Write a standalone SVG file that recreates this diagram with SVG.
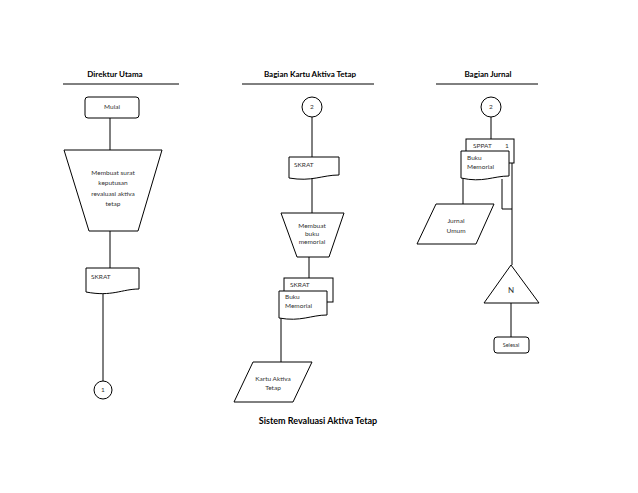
<svg xmlns="http://www.w3.org/2000/svg" width="638" height="493" viewBox="0 0 638 493">
<style>
.s{fill:#fff;stroke:#000;stroke-width:1}
.c{fill:none;stroke:#000;stroke-width:1}
.h{font-family:Lato,"Liberation Sans",sans-serif;font-size:8px;font-weight:bold;fill:#000}
.t{font-family:Lato,"Liberation Sans",sans-serif;font-size:6.5px;fill:#333}
.m{text-anchor:middle}
</style>
<rect width="638" height="493" fill="#fff"/>
<g id="headers">
<text class="h m" x="115" y="77">Direktur Utama</text>
<text class="h m" x="310" y="77">Bagian Kartu Aktiva Tetap</text>
<text class="h m" x="488" y="77">Bagian Jurnal</text>
<line class="c" x1="63" y1="84" x2="179" y2="84"/>
<line class="c" x1="242" y1="84" x2="374" y2="84"/>
<line class="c" x1="436" y1="84" x2="538" y2="84"/>
</g>
<g id="connectors">
<line class="c" x1="110" y1="118" x2="110" y2="150"/>
<line class="c" x1="110" y1="231" x2="110" y2="268"/>
<line class="c" x1="103" y1="294" x2="103" y2="381"/>
<line class="c" x1="312" y1="117" x2="312" y2="157"/>
<line class="c" x1="312" y1="177" x2="312" y2="213"/>
<line class="c" x1="309" y1="257" x2="309" y2="278"/>
<line class="c" x1="281" y1="318" x2="281" y2="362"/>
<line class="c" x1="491" y1="117" x2="491" y2="139"/>
<line class="c" x1="463" y1="178" x2="463" y2="204"/>
<polyline class="c" points="502,179 502,209 512,209"/>
<line class="c" x1="512" y1="163" x2="512" y2="265"/>
<line class="c" x1="511" y1="303" x2="511" y2="337"/>
</g>
<g id="mulai">
<rect class="s" x="85" y="97" width="54" height="21" rx="3"/>
<text class="t m" x="112" y="109">Mulai</text>
</g>
<g id="membuat-surat">
<polygon class="s" points="64,150 162,150 138,231 89,231"/>
<text class="t m" x="113" y="175">Membuat surat</text>
<text class="t m" x="113" y="185">keputusan</text>
<text class="t m" x="113" y="196">revaluasi aktiva</text>
<text class="t m" x="113" y="206">tetap</text>
</g>
<g id="skrat1">
<path class="s" d="M86,268 H139 V289 C122,289 112,297 86,292 Z"/>
<text class="t" x="91" y="279">SKRAT</text>
</g>
<g id="konektor1">
<circle class="s" cx="103" cy="390" r="9"/>
<text class="t m" x="103" y="392">1</text>
</g>
<g id="konektor2a">
<circle class="s" cx="312" cy="107" r="10"/>
<text class="t m" x="312" y="109">2</text>
</g>
<g id="skrat2">
<path class="s" d="M289,157 H339 V175 C322,175 312,182 289,178 Z"/>
<text class="t" x="294" y="167">SKRAT</text>
</g>
<g id="membuat-buku">
<polygon class="s" points="281,213 344,213 329,257 297,257"/>
<text class="t m" x="312" y="228">Membuat</text>
<text class="t m" x="312" y="236">buku</text>
<text class="t m" x="312" y="244">memorial</text>
</g>
<g id="skrat3-buku">
<rect class="s" x="284" y="278" width="49" height="24"/>
<text class="t" x="290" y="287">SKRAT</text>
<path class="s" d="M279,291 H327 V315 C311,315 301,322 279,318 Z"/>
<text class="t" x="285" y="299">Buku</text>
<text class="t" x="285" y="308">Memorial</text>
</g>
<g id="kartu-aktiva">
<polygon class="s" points="253,362 312,362 293,402 234,402"/>
<text class="t m" x="273" y="381">Kartu Aktiva</text>
<text class="t m" x="273" y="390">Tetap</text>
</g>
<g id="konektor2b">
<circle class="s" cx="491" cy="107" r="10"/>
<text class="t m" x="491" y="109">2</text>
</g>
<g id="sppat-buku">
<rect class="s" x="466" y="139" width="48" height="24"/>
<text class="t" x="473" y="148">SPPAT</text>
<text class="t" x="505" y="148">1</text>
<path class="s" d="M461,151 H509 V176 C493,176 483,183 461,178 Z"/>
<text class="t" x="467" y="160">Buku</text>
<text class="t" x="467" y="169">Memorial</text>
</g>
<g id="jurnal-umum">
<polygon class="s" points="436,204 494,204 476,244 417,244"/>
<text class="t m" x="456" y="223">Jurnal</text>
<text class="t m" x="456" y="233">Umum</text>
</g>
<g id="arsip-n">
<polygon class="s" points="511,265 539,303 484,303"/>
<text class="t m" x="511" y="293" style="font-size:8px">N</text>
</g>
<g id="selesai">
<rect class="s" x="494" y="337" width="35" height="16" rx="3"/>
<text class="t m" x="511" y="347" style="font-size:5.5px">Selesai</text>
</g>
<g id="title">
<text class="h m" x="318" y="424" style="font-size:9px">Sistem Revaluasi Aktiva Tetap</text>
</g>
</svg>
